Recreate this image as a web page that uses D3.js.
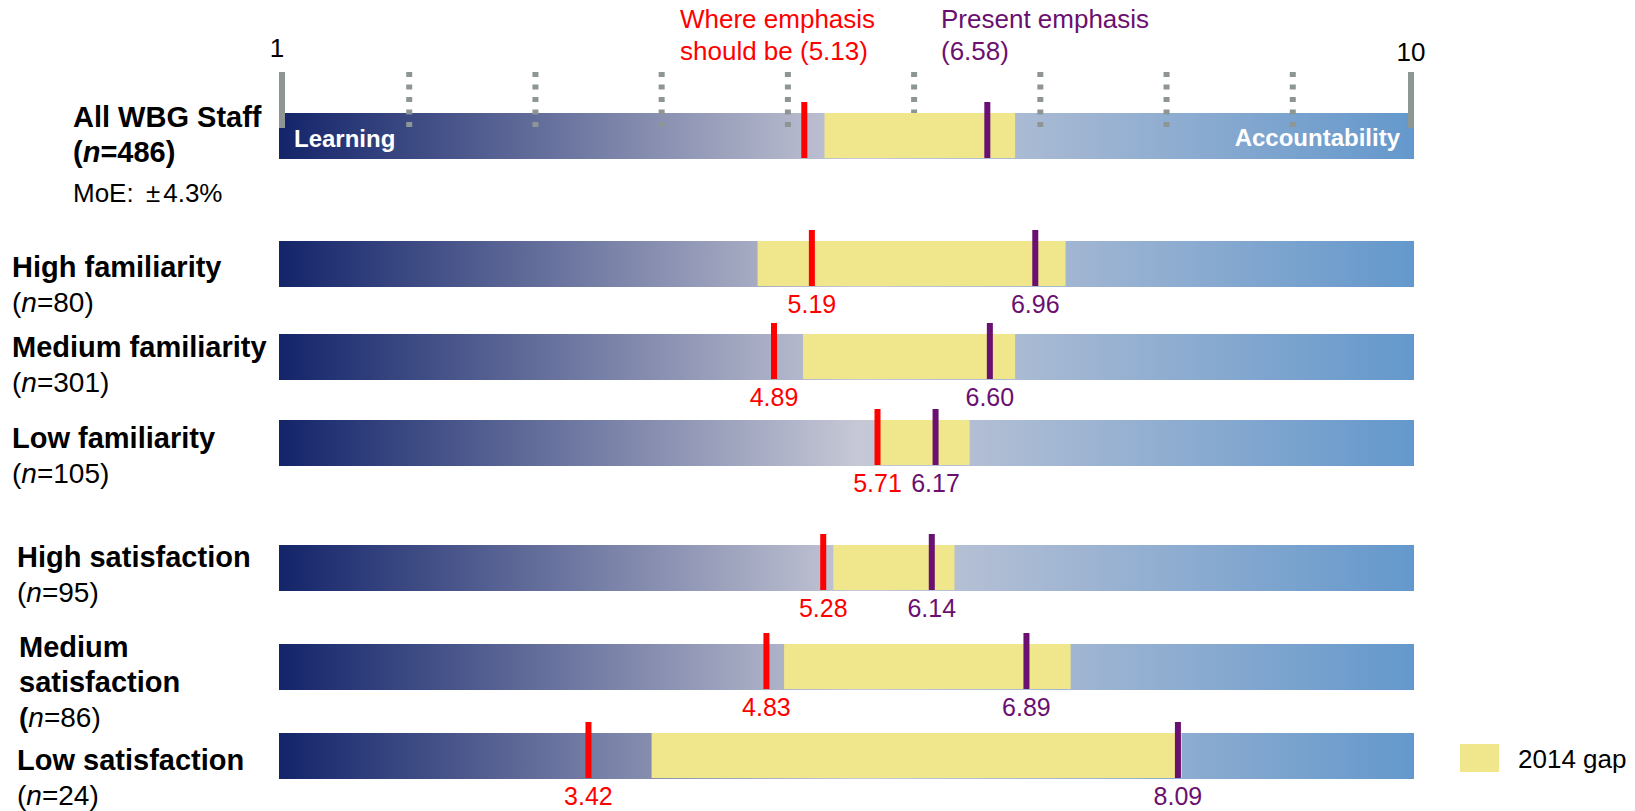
<!DOCTYPE html>
<html>
<head>
<meta charset="utf-8">
<script src="https://cdn.jsdelivr.net/npm/d3@7"></script>
<style>
body { margin: 0; background: #fff; }
svg text { font-family: "Liberation Sans", Arial, Helvetica, sans-serif; }
</style>
</head>
<body>
<div id="chart"></div>
<script>
// data
var groups = ["All WBG Staff", "High familiarity", "Medium familiarity", "Low familiarity",
              "High satisfaction", "Medium satisfaction", "Low satisfaction"]
var sampleN = [486, 80, 301, 105, 95, 86, 24]
var shouldBe = [5.13, 5.19, 4.89, 5.71, 5.28, 4.83, 3.42]
var present = [6.58, 6.96, 6.60, 6.17, 6.14, 6.89, 8.09]
var gap2014Start = [5.29, 4.76, 5.12, 5.69, 5.36, 4.97, 3.92]
var gap2014End = [6.80, 7.20, 6.80, 6.44, 6.32, 7.24, 8.12]
var axisTicks = [1, 2, 3, 4, 5, 6, 7, 8, 9, 10]
var endLabels = ["Learning", "Accountability"]
var moeParts = ["MoE: ", "\u00b1", "4.3%"]
var legendText = "2014 gap"

var width = 1635, height = 811
var barH = 46
var red = "#ff0000", purple = "#6a1070", gapColor = "#f0e68c", tickColor = "#8e9595"

// rows are not evenly spaced in the original
var rowTops = [113, 241, 334, 420, 545, 644, 733]
var labelX = [73, 12, 12, 12, 17, 19, 17]
var labelY = [127, 277, 357, 448, 567, 657, 770]
var lineH = 35

var xScale = d3.scaleLinear().domain([1, 10]).range([283, 1419])
var yScale = d3.scaleOrdinal().domain(groups).range(rowTops)
var fmt = d3.format(".2f")

var barLeft = xScale(1) - 4, barRight = xScale(10) - 5

var svg = d3.select("#chart").append("svg")
    .attr("width", width)
    .attr("height", height)

var grad = svg.append("defs").append("linearGradient")
    .attr("id", "barGrad")
    .attr("gradientUnits", "userSpaceOnUse")
    .attr("x1", barLeft).attr("x2", barRight)
    .attr("y1", 0).attr("y2", 0)
grad.append("stop").attr("offset", "0%").attr("stop-color", "#13246a")
grad.append("stop").attr("offset", "51%").attr("stop-color", "#c6c8d6")
grad.append("stop").attr("offset", "100%").attr("stop-color", "#6498cc")

var rows = groups.map(function(g, i) {
    return {group: g, n: sampleN[i], should: shouldBe[i], present: present[i],
            gs: gap2014Start[i], ge: gap2014End[i], i: i}
})

// gradient bars
svg.selectAll(".bar")
    .data(rows)
    .enter()
    .append("rect")
    .attr("class", "bar")
    .attr("x", barLeft)
    .attr("y", function(d) { return yScale(d.group) })
    .attr("width", barRight - barLeft)
    .attr("height", barH)
    .attr("fill", "url(#barGrad)")

// scale ticks on top row
var tickTop = yScale(groups[0]) - 41, tickBottom = yScale(groups[0]) + 14
svg.selectAll(".tick")
    .data(axisTicks.slice(1, -1))
    .enter()
    .append("line")
    .attr("x1", function(d) { return xScale(d) })
    .attr("x2", function(d) { return xScale(d) })
    .attr("y1", tickTop)
    .attr("y2", tickBottom)
    .style("stroke", tickColor)
    .style("stroke-width", 6)
    .style("stroke-dasharray", "5,7.5")

var endX = [barLeft + 3, barRight - 3]
svg.selectAll(".endtick")
    .data(endX)
    .enter()
    .append("line")
    .attr("x1", function(d) { return d })
    .attr("x2", function(d) { return d })
    .attr("y1", tickTop)
    .attr("y2", tickBottom + 1)
    .style("stroke", tickColor)
    .style("stroke-width", 6)

svg.append("text")
    .attr("x", xScale(axisTicks[0]) - 6)
    .attr("y", 57)
    .attr("text-anchor", "middle")
    .attr("font-size", "26px")
    .text(axisTicks[0])
svg.append("text")
    .attr("x", barRight - 3)
    .attr("y", 61)
    .attr("text-anchor", "middle")
    .attr("font-size", "26px")
    .text(axisTicks[axisTicks.length - 1])

// 2014 gap boxes
svg.selectAll(".gap")
    .data(rows)
    .enter()
    .append("rect")
    .attr("class", "gap")
    .attr("x", function(d) { return xScale(d.gs) })
    .attr("y", function(d) { return yScale(d.group) })
    .attr("width", function(d) { return xScale(d.ge) - xScale(d.gs) })
    .attr("height", barH - 1)
    .attr("fill", gapColor)

// learning / accountability inside top bar
svg.append("text")
    .attr("x", barLeft + 15)
    .attr("y", yScale(groups[0]) + 34)
    .attr("fill", "white")
    .attr("font-size", "24px")
    .attr("font-weight", "bold")
    .text(endLabels[0])
svg.append("text")
    .attr("x", barRight - 14)
    .attr("y", yScale(groups[0]) + 33)
    .attr("text-anchor", "end")
    .attr("fill", "white")
    .attr("font-size", "24px")
    .attr("font-weight", "bold")
    .text(endLabels[1])

// markers
function drawMarkers(key, color) {
    svg.selectAll(".m-" + key)
        .data(rows)
        .enter()
        .append("rect")
        .attr("class", "m-" + key)
        .attr("x", function(d) { return xScale(d[key]) - 3 })
        .attr("y", function(d) { return yScale(d.group) - 11 })
        .attr("width", 6)
        .attr("height", barH + 10)
        .attr("fill", color)

    svg.selectAll(".v-" + key)
        .data(rows.slice(1))
        .enter()
        .append("text")
        .attr("class", "v-" + key)
        .attr("x", function(d) { return xScale(d[key]) })
        .attr("y", function(d) { return yScale(d.group) + barH + 26 })
        .attr("text-anchor", "middle")
        .attr("font-size", "25px")
        .attr("fill", color)
        .text(function(d) { return fmt(d[key]) })
}
drawMarkers("should", red)
drawMarkers("present", purple)

// headline annotations for all staff
var ann1 = svg.append("text").attr("font-size", "26px").attr("fill", red)
ann1.append("tspan").attr("x", 680).attr("y", 28).text("Where emphasis")
ann1.append("tspan").attr("x", 680).attr("y", 60).text("should be (" + fmt(shouldBe[0]) + ")")
var ann2 = svg.append("text").attr("font-size", "26px").attr("fill", purple)
ann2.append("tspan").attr("x", 941).attr("y", 28).text("Present emphasis")
ann2.append("tspan").attr("x", 941).attr("y", 60).text("(" + fmt(present[0]) + ")")

// row labels
rows.forEach(function(d) {
    var lines = d.group == "Medium satisfaction" ? ["Medium", "satisfaction"] : [d.group]
    var t = svg.append("text").attr("font-size", "29px")
    lines.forEach(function(l, k) {
        t.append("tspan")
            .attr("x", labelX[d.i])
            .attr("y", labelY[d.i] + k * lineH)
            .attr("font-weight", "bold")
            .text(l)
    })
    var ny = labelY[d.i] + lines.length * lineH
    var nt = svg.append("text")
        .attr("x", labelX[d.i])
        .attr("y", ny)
        .attr("font-size", d.i == 0 ? "29px" : "28px")
        .attr("font-weight", d.i == 0 ? "bold" : "normal")
    nt.append("tspan").attr("font-weight", d.i == 0 || d.i == 5 ? "bold" : null).text("(")
    nt.append("tspan").attr("font-style", "italic").text("n")
    nt.append("tspan").text("=" + d.n + ")")
    if (d.i == 0) {
        var moe = svg.append("text")
            .attr("x", labelX[d.i])
            .attr("y", ny + 40)
            .attr("font-size", "26px")
        moe.append("tspan").text(moeParts[0])
        moe.append("tspan").attr("dx", 5).text(moeParts[1])
        moe.append("tspan").attr("dx", 3).text(moeParts[2])
    }
})

// legend
svg.append("rect")
    .attr("x", 1460).attr("y", 744)
    .attr("width", 39).attr("height", 28)
    .attr("fill", gapColor)
svg.append("text")
    .attr("x", 1518).attr("y", 768)
    .attr("font-size", "26px")
    .text(legendText)
</script>
</body>
</html>
